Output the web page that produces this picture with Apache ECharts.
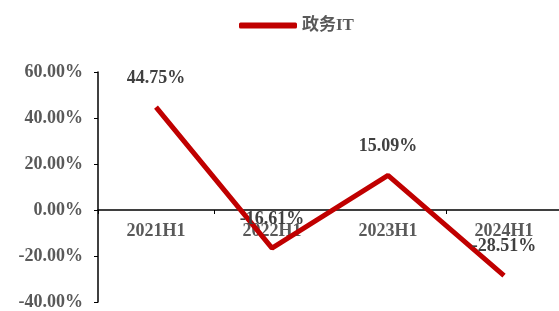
<!DOCTYPE html>
<html><head><meta charset="utf-8">
<script src="https://cdn.jsdelivr.net/npm/echarts@6/dist/echarts.min.js"></script>
<style>html,body{margin:0;padding:0;background:#fff}#c{width:559px;height:311px}</style>
</head><body><div id="c"></div>
<script>
const categories = ['2021H1','2022H1','2023H1','2024H1'];
const seriesName = '政务IT';
const values = [44.75, -16.61, 15.09, -28.51];
const yTicks = [-40, -20, 0, 20, 40, 60];

const font = "'Times New Roman','Liberation Serif','Noto Sans CJK SC',serif";
const yMin = yTicks[0], yMax = yTicks[yTicks.length-1];
const gridTop = 72, gridBottom = 9, H = 311;
const gridH = H - gridTop - gridBottom;
const zeroOffset = -gridH * (0 - yMin) / (yMax - yMin);
const chart = echarts.init(document.getElementById('c'));
chart.setOption({
  animation: false,
  legend: {
    data: [seriesName], top: 12, left: 234,
    itemWidth: 58, itemHeight: 6, itemGap: 5,
    icon: 'roundRect',
    itemStyle: {color: '#c00000', opacity: 1},
    textStyle: {fontFamily: font, fontWeight: 'bold', fontSize: 17, color: '#595959'}
  },
  grid: {left: 98, top: gridTop, width: 464, bottom: gridBottom, containLabel: false, outerBoundsMode: 'none'},
  xAxis: {
    type: 'category', data: categories, offset: zeroOffset,
    axisLine: {onZero: false, lineStyle: {color: '#000', width: 1.5}},
    axisTick: {show: true, length: 4, lineStyle: {color: '#000'}},
    axisLabel: {margin: 12, fontFamily: font, fontWeight: 'bold', fontSize: 18, color: '#595959'}
  },
  yAxis: {
    type: 'value', min: yMin, max: yMax, interval: 20,
    splitLine: {show: false},
    axisLine: {show: true, lineStyle: {color: '#000', width: 1.5}},
    axisTick: {show: true, length: 4, lineStyle: {color: '#000'}},
    axisLabel: {margin: 15, fontFamily: font, fontWeight: 'bold', fontSize: 18, color: '#595959',
      formatter: v => v.toFixed(2) + '%'}
  },
  series: [{
    name: seriesName, type: 'line', data: values,
    symbol: 'circle', symbolSize: 0.1, showSymbol: true, z: 3,
    lineStyle: {color: '#c00000', width: 5},
    itemStyle: {color: '#c00000'},
    label: {show: true, position: 'top', distance: 20, fontFamily: font, fontWeight: 'bold', fontSize: 18, color: '#404040',
      formatter: p => p.value.toFixed(2) + '%'}
  }]
});
</script></body></html>
